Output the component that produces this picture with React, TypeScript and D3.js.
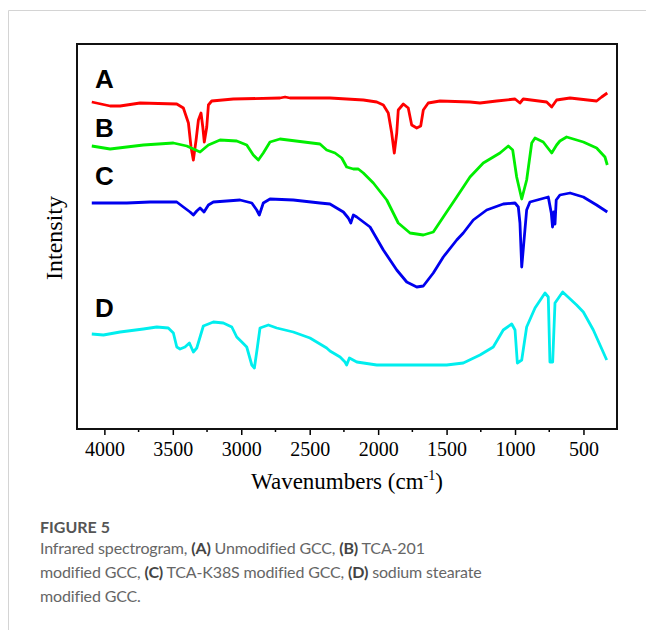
import { useEffect, useRef } from 'react';
import * as d3 from 'd3';

// wavenumber (cm-1) / intensity (a.u.)
const waveA = [4092, 3958, 3885, 3739, 3471, 3423, 3386, 3367, 3350, 3330, 3313, 3294, 3281, 3270, 3252, 3240, 3216, 3058, 2717, 2680, 2644, 2352, 2108, 2010, 1962, 1926, 1901, 1882, 1864, 1853, 1816, 1780, 1755, 1718, 1689, 1670, 1634, 1548, 1329, 1256, 1134, 1000, 964, 940, 769, 732, 696, 598, 404, 367, 326];
const intA = [327, 323, 323, 326, 325, 321, 306, 282, 269, 289, 309, 316, 302, 287, 302, 324, 328, 330, 331, 332, 331, 331, 329, 327, 324, 316, 296, 276, 296, 319, 325, 321, 304, 301, 303, 319, 326, 328, 327, 326, 328, 330, 326, 330, 327, 322, 329, 331, 328, 332, 336];

const waveB = [4092, 3958, 3715, 3496, 3398, 3301, 3240, 3155, 3033, 2960, 2912, 2875, 2839, 2790, 2717, 2425, 2376, 2315, 2266, 2230, 2181, 2145, 2108, 2035, 1937, 1853, 1767, 1670, 1597, 1524, 1426, 1329, 1232, 1110, 1049, 1017, 988, 951, 915, 878, 854, 794, 732, 696, 672, 623, 501, 404, 343, 326];
const intB = [283, 280, 284, 286, 283, 277, 284, 289, 288, 284, 274, 269, 276, 287, 290, 285, 279, 276, 271, 262, 260, 260, 256, 246, 229, 206, 196, 194, 197, 212, 232, 252, 266, 276, 283, 279, 252, 230, 249, 286, 291, 287, 276, 284, 288, 292, 287, 281, 272, 264];

const waveC = [4092, 3836, 3666, 3471, 3423, 3374, 3350, 3325, 3301, 3272, 3240, 3204, 3009, 2923, 2887, 2868, 2839, 2790, 2620, 2425, 2352, 2254, 2218, 2200, 2181, 2156, 2059, 1962, 1864, 1791, 1718, 1670, 1597, 1524, 1426, 1378, 1305, 1207, 1086, 1000, 976, 964, 951, 934, 915, 891, 757, 735, 726, 717, 708, 699, 672, 598, 501, 404, 326];
const intC = [226, 226, 227, 227, 222, 217, 214, 218, 221, 217, 224, 227, 229, 226, 219, 214, 226, 230, 229, 226, 225, 217, 211, 206, 214, 212, 202, 179, 159, 147, 142, 143, 156, 172, 189, 196, 209, 219, 225, 226, 222, 206, 162, 189, 219, 227, 232, 216, 202, 217, 205, 229, 234, 236, 232, 224, 217];

const waveD = [4092, 4007, 3885, 3715, 3617, 3533, 3496, 3471, 3447, 3411, 3379, 3350, 3325, 3301, 3277, 3204, 3131, 3069, 3033, 2996, 2960, 2923, 2904, 2882, 2863, 2802, 2741, 2620, 2498, 2376, 2352, 2278, 2242, 2230, 2210, 2156, 2010, 1499, 1378, 1256, 1159, 1086, 1024, 1000, 983, 951, 915, 854, 781, 757, 745, 725, 708, 652, 550, 501, 428, 330];
const intD = [95, 94, 97, 100, 102, 101, 96, 82, 80, 82, 86, 77, 81, 92, 103, 107, 106, 102, 92, 87, 82, 64, 61, 82, 101, 104, 101, 97, 91, 81, 78, 72, 67, 64, 71, 67, 64, 64, 66, 74, 82, 99, 105, 99, 66, 69, 102, 121, 136, 132, 67, 67, 126, 137, 124, 117, 99, 69];

const labels = ['A', 'B', 'C', 'D'];
const colors = ['#ff0000', '#00ee00', '#0000ee', '#00eeee'];
const labelInt = [341, 292, 244, 112];

const majorTicks = [4000, 3500, 3000, 2500, 2000, 1500, 1000, 500];
const minorTicks = [3750, 3250, 2750, 2250, 1750, 1250, 750];

export default function App() {
    const svgRef = useRef<SVGSVGElement | null>(null);

    useEffect(() => {
        if (!svgRef.current) return;
        const svg = d3.select(svgRef.current);
        svg.selectAll('*').remove();

        const left = 77, right = 617, top = 44, bottom = 429;

        // card outline
        svg.append('path')
            .attr('d', 'M8.5,700 V10.5 H700')
            .attr('fill', 'none')
            .attr('stroke', '#d4d4d4')
            .attr('stroke-width', 1);

        const x = d3.scaleLinear().domain([4200, 255]).range([left, right]);
        const y = d3.scaleLinear().domain([0, 385]).range([bottom, top]);

        const series = [
            { wave: waveA, int: intA },
            { wave: waveB, int: intB },
            { wave: waveC, int: intC },
            { wave: waveD, int: intD },
        ];

        const line = d3.line<[number, number]>()
            .x(d => x(d[0]))
            .y(d => y(d[1]));

        series.forEach((s, i) => {
            const pts = s.wave.map((w, j) => [w, s.int[j]] as [number, number]);
            svg.append('path')
                .datum(pts)
                .attr('d', line)
                .attr('fill', 'none')
                .attr('stroke', colors[i])
                .attr('stroke-width', 2.8)
                .attr('stroke-linejoin', 'round');
        });

        // series letters
        labels.forEach((l, i) => {
            svg.append('text')
                .attr('x', 95)
                .attr('y', y(labelInt[i]))
                .attr('font-family', '"Liberation Sans", Arial, sans-serif')
                .attr('font-weight', 'bold')
                .attr('font-size', 26)
                .attr('fill', '#000')
                .text(l);
        });

        // x axis
        const axis = svg.append('g')
            .attr('transform', `translate(0,${bottom})`)
            .call(d3.axisBottom(x).tickValues(majorTicks).tickSize(6).tickPadding(7).tickFormat(d3.format('d')));
        axis.select('.domain').remove();
        axis.selectAll('line').attr('stroke', '#000').attr('stroke-width', 1.5);
        axis.selectAll('text')
            .attr('font-family', '"Liberation Serif", "Times New Roman", serif')
            .attr('font-size', 20)
            .attr('fill', '#000');

        svg.append('g')
            .selectAll('line')
            .data(minorTicks)
            .join('line')
            .attr('x1', d => x(d))
            .attr('x2', d => x(d))
            .attr('y1', bottom)
            .attr('y2', bottom + 3)
            .attr('stroke', '#000')
            .attr('stroke-width', 1.5);

        // frame
        svg.append('rect')
            .attr('x', left)
            .attr('y', top)
            .attr('width', right - left)
            .attr('height', bottom - top)
            .attr('fill', 'none')
            .attr('stroke', '#111')
            .attr('stroke-width', 2);

        // axis titles
        const xt = svg.append('text')
            .attr('x', (left + right) / 2)
            .attr('y', 489)
            .attr('text-anchor', 'middle')
            .attr('font-family', '"Liberation Serif", "Times New Roman", serif')
            .attr('font-size', 23)
            .attr('fill', '#000');
        xt.append('tspan').text('Wavenumbers (cm');
        xt.append('tspan').attr('dy', -9).attr('font-size', 14).text('-1');
        xt.append('tspan').attr('dy', 9).text(')');

        svg.append('text')
            .attr('transform', `translate(62,238) rotate(-90)`)
            .attr('text-anchor', 'middle')
            .attr('font-family', '"Liberation Serif", "Times New Roman", serif')
            .attr('font-size', 24)
            .attr('fill', '#000')
            .text('Intensity');

        // caption
        const capFont = 'Lato, "Open Sans", sans-serif';
        svg.append('text')
            .attr('x', 40)
            .attr('y', 533)
            .attr('font-family', capFont)
            .attr('font-size', 16)
            .attr('font-weight', 700)
            .attr('fill', '#555')
            .text('FIGURE 5');

        const capLines: [string, boolean][][] = [
            [['Infrared spectrogram, ', false], ['(A)', true], [' Unmodified GCC, ', false], ['(B)', true], [' TCA-201', false]],
            [['modified GCC, ', false], ['(C)', true], [' TCA-K38S modified GCC, ', false], ['(D)', true], [' sodium stearate', false]],
            [['modified GCC.', false]],
        ];
        capLines.forEach((parts, i) => {
            const t = svg.append('text')
                .attr('x', 40)
                .attr('y', 554 + i * 24)
                .attr('font-family', capFont)
                .attr('font-size', 16)
                .attr('letter-spacing', -0.15)
                .attr('fill', '#666');
            parts.forEach(([s, b]) => {
                t.append('tspan')
                    .attr('font-weight', b ? 700 : 400)
                    .attr('fill', b ? '#444' : '#666')
                    .text(s);
            });
        });
    }, []);

    return (
        <svg
            ref={svgRef}
            width={646}
            height={630}
            style={{ position: 'absolute', left: 0, top: 0, background: '#fff' }}
        />
    );
}
